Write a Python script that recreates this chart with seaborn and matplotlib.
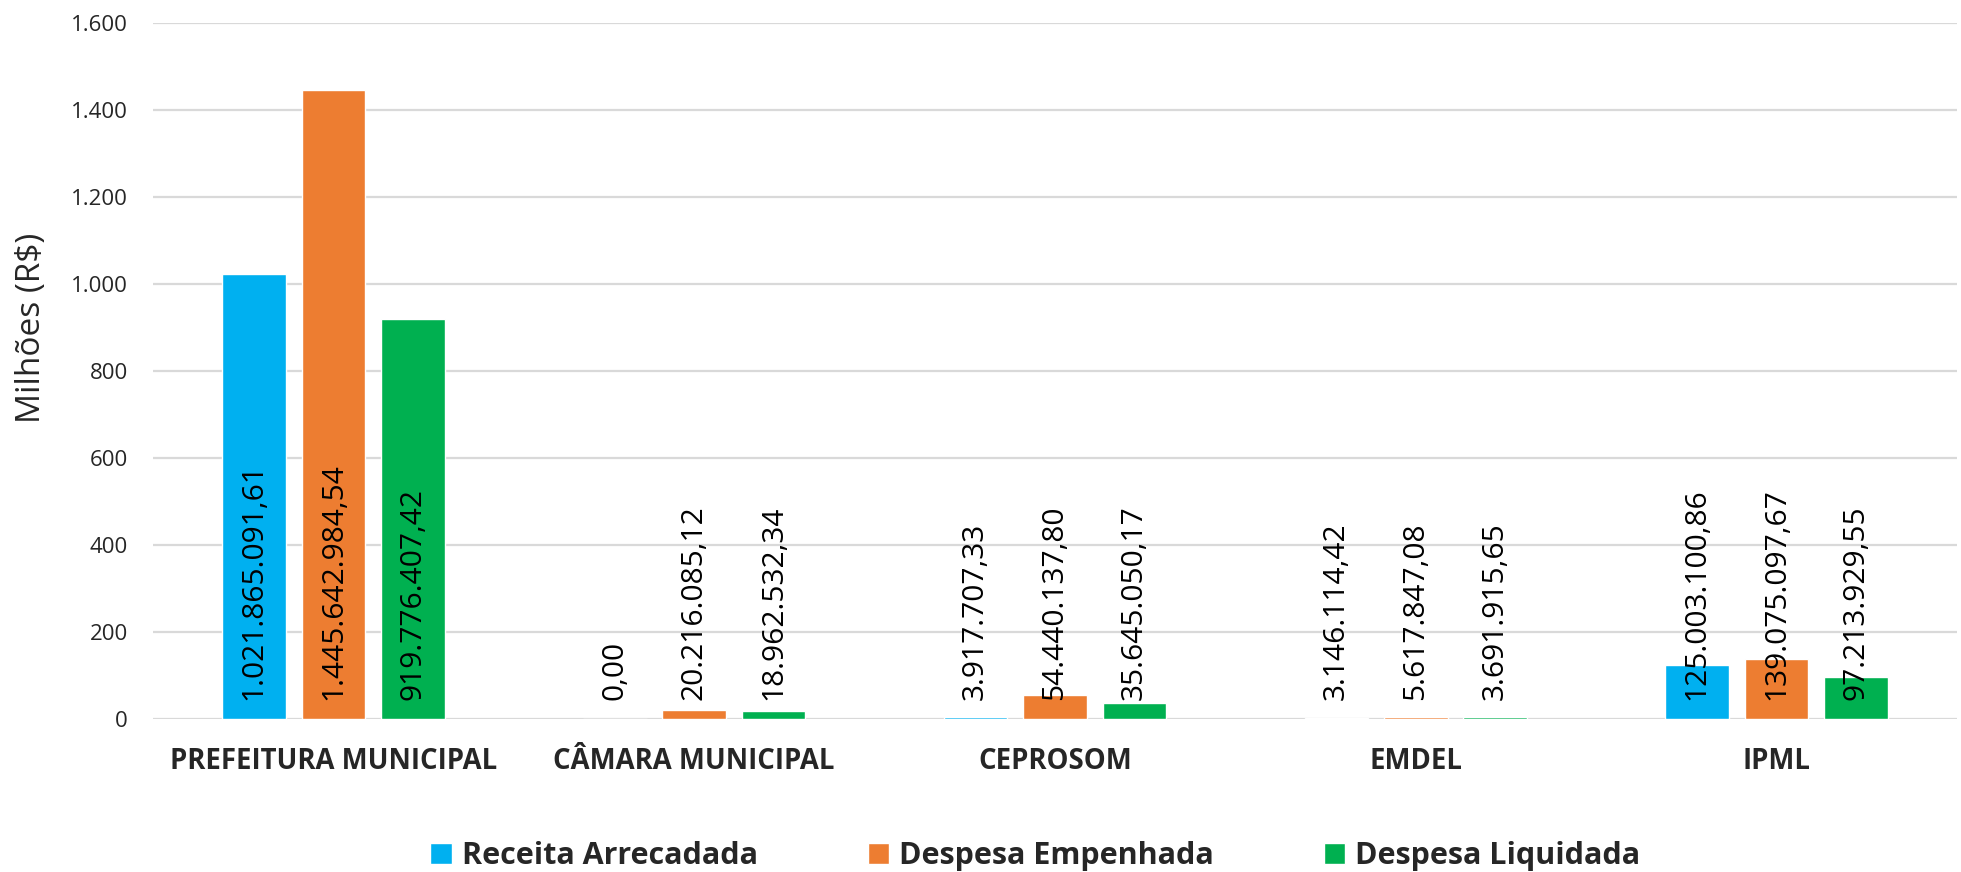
import pandas as pd
import matplotlib.pyplot as plt
import seaborn as sns
from matplotlib.ticker import FuncFormatter
from matplotlib.patches import Patch

# data (R$)
orgaos = ["PREFEITURA MUNICIPAL", "CÂMARA MUNICIPAL", "CEPROSOM", "EMDEL", "IPML"]
series = ["Receita Arrecadada", "Despesa Empenhada", "Despesa Liquidada"]
receita = [1021865091.61, 0.00, 3917707.33, 3146114.42, 125003100.86]
empenhada = [1445642984.54, 20216085.12, 54440137.80, 5617847.08, 139075097.67]
liquidada = [919776407.42, 18962532.34, 35645050.17, 3691915.65, 97213929.55]
colors = ["#00B0F0", "#ED7D31", "#00B050"]

rows = []
for s, vals in zip(series, [receita, empenhada, liquidada]):
    for o, v in zip(orgaos, vals):
        rows.append({"orgao": o, "serie": s, "valor": v, "milhoes": v / 1e6})
df = pd.DataFrame(rows)


def br(v):
    s = f"{v:,.2f}"
    return s.replace(",", "X").replace(".", ",").replace("X", ".")


sns.set_style("white")
plt.rcParams["font.family"] = ["Open Sans", "DejaVu Sans"]

fig = plt.figure(figsize=(19.61, 8.72), dpi=100)
ax = fig.add_axes([153 / 1961, 1 - 719 / 872, (1957 - 153) / 1961, (719 - 23) / 872])

sns.barplot(data=df, x="orgao", y="milhoes", hue="serie", order=orgaos,
            hue_order=series, palette=colors, width=0.66, gap=0.2,
            saturation=1, legend=False, ax=ax)

ax.set_ylim(0, 1600)
ax.set_yticks(range(0, 1601, 200))
ax.yaxis.set_major_formatter(FuncFormatter(lambda v, p: f"{int(v):,}".replace(",", ".")))
ax.grid(axis="y", color="#d9d9d9", linewidth=1.6)
ax.set_axisbelow(True)
sns.despine(ax=ax, left=True, bottom=True)
ax.tick_params(axis="both", length=0)
ax.tick_params(axis="y", labelsize=16, pad=18)
ax.set_xticks(range(len(orgaos)))
ax.set_xticklabels(orgaos, fontsize=19.8, fontweight="bold")
ax.tick_params(axis="x", pad=20)
ax.set_xlabel("")
ax.set_ylabel("Milhões (R$)", fontsize=24)
ax.yaxis.set_label_coords(-0.058, 0.562)

# value labels at bar base
for cont, vals in zip(ax.containers, [receita, empenhada, liquidada]):
    for bar, v in zip(cont, vals):
        ax.annotate(br(v), (bar.get_x() + bar.get_width() / 2, 0),
                    xytext=(0, 19), textcoords="offset pixels",
                    rotation=90, ha="center", va="bottom", fontsize=21.5, color="black")

handles = [Patch(facecolor=c, label=s) for c, s in zip(colors, series)]
fig.legend(handles=handles, loc="center", bbox_to_anchor=(0.528, 1 - 856 / 872),
           ncol=3, frameon=False, prop={"weight": "bold", "size": 22},
           handlelength=0.7, handleheight=0.7, handletextpad=0.33, columnspacing=3.6)

fig.savefig("out.png", dpi=100)
